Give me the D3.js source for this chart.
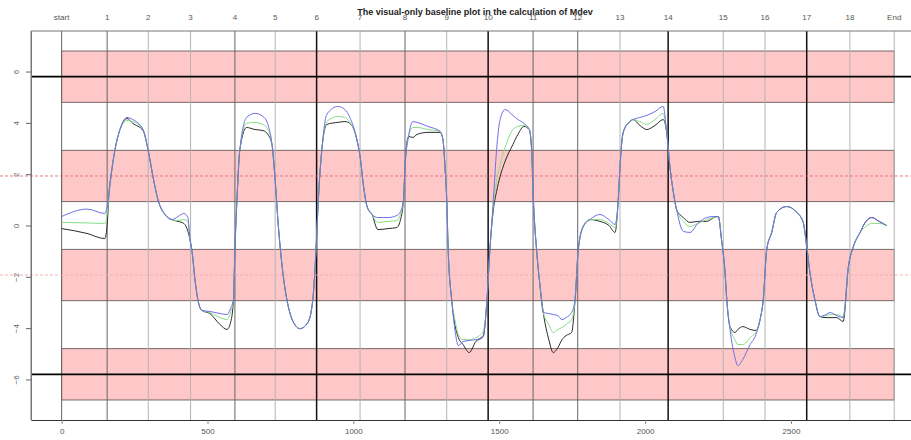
<!DOCTYPE html>
<html>
<head>
<meta charset="utf-8">
<script src="https://cdn.jsdelivr.net/npm/d3@7"></script>
<style>
  body { margin: 0; background: #fff; }
  text { font-family: "Liberation Sans", Arial, sans-serif; }
</style>
</head>
<body>
<script>
"use strict";
(function(){
    // boundaries along the top axis
    const boundaryLabels = ["start", "1", "2", "3", "4", "5", "6", "7", "8", "9", "10",
        "11", "12", "13", "14", "15", "16", "17", "18", "End"]
    const boundaryPos = [0, 156, 297, 442, 594, 732, 874, 1023, 1177, 1320, 1462,
        1616, 1769, 1914, 2079, 2268, 2411, 2554, 2702, 2854]
    const boundaryKind = ["dark", "dark", "light", "light", "dark", "light", "major", "light", "dark", "light", "major",
        "dark", "dark", "light", "major", "light", "light", "major", "light", "light"]

    const xTicks = [0, 500, 1000, 1500, 2000, 2500]
    const yTicks = [-6, -4, -2, 0, 2, 4, 6]

    // tolerance bands (centre +/- 1) and reference levels
    const bandCentres = [5.8, 1.93, -1.93, -5.8]
    const bandHalf = 1
    const solidLevels = [5.8, -5.8]
    const dashedLevels = [1.93, -1.93]

    // the three traces, sampled at shared positions
    const sampleX = [0, 87, 148, 157, 162, 169, 183, 200, 224, 244,
        279, 296, 313, 330, 354, 378, 399, 419, 433, 440,
        447, 457, 469, 481, 508, 543, 567, 580, 589, 594,
        601, 611, 634, 663, 690, 707, 721, 731, 743, 760,
        777, 795, 817, 844, 861, 872, 880, 892, 909, 947,
        971, 988, 1012, 1023, 1035, 1047, 1064, 1084, 1119, 1149,
        1160, 1172, 1177, 1189, 1204, 1218, 1256, 1297, 1307, 1314,
        1320, 1325, 1337, 1348, 1360, 1376, 1397, 1420, 1445, 1458,
        1468, 1480, 1491, 1503, 1520, 1547, 1564, 1585, 1603, 1611,
        1617, 1628, 1640, 1651, 1670, 1685, 1701, 1715, 1729, 1748,
        1760, 1771, 1788, 1811, 1845, 1876, 1897, 1908, 1914, 1925,
        1948, 1959, 1982, 2006, 2034, 2062, 2074, 2085, 2097, 2108,
        2131, 2154, 2181, 2211, 2236, 2251, 2262, 2274, 2280, 2291,
        2308, 2318, 2335, 2360, 2380, 2394, 2405, 2417, 2434, 2451,
        2485, 2520, 2542, 2554, 2565, 2582, 2599, 2620, 2634, 2657,
        2679, 2697, 2714, 2737, 2757, 2777, 2802, 2828]

    const blueTrace = [0.35, 0.64, 0.47, 0.82, 1.21, 1.91, 2.96, 3.74, 4.21, 4.13,
        3.74, 2.96, 1.91, 1.01, 0.43, 0.23, 0.35, 0.47, 0.31, -0.55,
        -1.01, -2.11, -3.00, -3.31, -3.35, -3.43, -3.47, -3.20, -2.89, -0.94,
        1.01, 2.96, 4.21, 4.37, 4.25, 3.94, 3.16, 1.91, -0.04, -1.99,
        -3.16, -3.78, -4.02, -3.78, -2.89, -0.94, 1.01, 2.96, 4.33, 4.64,
        4.52, 4.21, 3.35, 2.69, 1.52, 0.74, 0.43, 0.31, 0.31, 0.39,
        0.51, 1.01, 2.30, 3.47, 4.05, 4.02, 3.86, 3.67, 3.35, 2.30,
        1.01, -0.94, -2.89, -4.05, -4.68, -4.52, -4.48, -4.45, -4.29, -2.89,
        -0.94, 1.01, 2.96, 4.13, 4.52, 4.29, 4.13, 3.98, 3.74, 2.96,
        1.01, -0.94, -2.38, -3.39, -3.43, -3.47, -3.51, -3.67, -3.59, -3.39,
        -2.89, -0.94, -0.04, 0.23, 0.43, 0.23, 0.04, 1.01, 2.30, 3.63,
        4.05, 4.13, 4.21, 4.29, 4.44, 4.64, 3.63, 2.30, 1.29, 0.62,
        -0.23, -0.27, 0.08, 0.31, 0.35, 0.35, -0.55, -1.83, -2.89, -4.05,
        -5.15, -5.46, -5.22, -4.64, -4.25, -3.67, -2.89, -0.94, -0.27, 0.51,
        0.74, 0.51, 0.12, -0.82, -1.83, -2.89, -3.55, -3.47, -3.39, -3.51,
        -3.59, -1.60, -0.82, -0.27, 0.16, 0.31, 0.16, 0]

    const greenTrace = [0.12, 0.10, 0.08, 0.55, 1.21, 1.91, 2.96, 3.74, 4.09, 4.05,
        3.74, 2.96, 1.91, 1.01, 0.43, 0.23, 0.19, 0.23, 0.16, -0.55,
        -1.01, -2.11, -3.00, -3.31, -3.39, -3.59, -3.67, -3.35, -2.89, -0.94,
        1.01, 2.96, 3.98, 4.02, 3.94, 3.74, 3.16, 1.91, -0.04, -1.99,
        -3.16, -3.78, -4.02, -3.78, -2.89, -0.94, 1.01, 2.96, 4.05, 4.25,
        4.21, 4.02, 3.35, 2.69, 1.52, 0.74, 0.43, 0.12, 0.16, 0.19,
        0.39, 1.01, 2.30, 3.47, 3.82, 3.82, 3.74, 3.67, 3.35, 2.30,
        1.01, -0.94, -2.89, -3.67, -4.25, -4.45, -4.45, -4.37, -4.13, -2.89,
        -0.94, 0.82, 1.72, 2.38, 3.04, 3.74, 3.86, 3.90, 3.74, 2.96,
        1.01, -0.94, -2.38, -3.39, -3.86, -4.17, -4.05, -3.98, -3.86, -3.67,
        -2.89, -0.94, -0.04, 0.23, 0.23, 0.08, -0.08, 1.01, 2.30, 3.63,
        4.05, 4.13, 4.05, 3.94, 4.13, 4.37, 3.63, 2.30, 1.29, 0.62,
        0.16, -0.04, 0.08, 0.23, 0.31, 0.35, -0.55, -1.83, -2.89, -3.94,
        -4.45, -4.64, -4.64, -4.37, -4.13, -3.67, -2.89, -0.94, -0.27, 0.51,
        0.74, 0.51, 0.12, -0.82, -1.83, -2.89, -3.55, -3.51, -3.47, -3.47,
        -3.55, -1.60, -0.82, -0.27, -0.04, 0.08, 0.08, 0]

    const blackTrace = [-0.12, -0.31, -0.51, 0.16, 1.21, 1.91, 2.96, 3.74, 4.17, 3.98,
        3.70, 2.96, 1.91, 1.01, 0.43, 0.23, 0.16, 0.08, -0.23, -0.55,
        -1.01, -2.11, -3.00, -3.31, -3.43, -3.86, -4.05, -3.74, -2.89, -0.94,
        1.01, 2.96, 3.82, 3.74, 3.70, 3.55, 3.16, 1.91, -0.04, -1.99,
        -3.16, -3.78, -4.02, -3.78, -2.89, -0.94, 1.01, 2.96, 3.94, 4.02,
        4.05, 3.98, 3.35, 2.69, 1.52, 0.74, 0.43, -0.16, -0.12, -0.08,
        0.16, 1.01, 2.30, 3.47, 3.43, 3.55, 3.63, 3.63, 3.35, 2.30,
        1.01, -0.94, -2.89, -3.86, -4.37, -4.64, -4.95, -4.52, -4.33, -2.89,
        -0.94, 0.62, 1.33, 1.91, 2.50, 3.16, 3.55, 3.86, 3.74, 2.96,
        1.01, -0.94, -2.38, -3.39, -4.45, -4.95, -4.76, -4.45, -4.29, -4.17,
        -2.89, -0.94, -0.04, 0.23, 0.16, 0, -0.27, 1.01, 2.30, 3.63,
        4.05, 4.13, 3.90, 3.74, 3.90, 4.13, 3.63, 2.30, 1.29, 0.62,
        0.31, 0.12, 0.16, 0.16, 0.31, 0.35, -0.55, -1.83, -2.89, -3.94,
        -4.17, -4.05, -3.94, -4.05, -4.09, -3.67, -2.89, -0.94, -0.27, 0.51,
        0.74, 0.51, 0.12, -0.82, -1.83, -2.89, -3.55, -3.59, -3.59, -3.59,
        -3.74, -1.60, -0.82, -0.27, 0.16, 0.31, 0.16, 0]

    const traceNames = ["black", "green", "blue"]
    const traceValues = [blackTrace, greenTrace, blueTrace]

    const title = "The visual-only baseline plot in the calculation of Mdev"

    const measurements = { width: 911, height: 440, left: 31, top: 31, bottom: 420, right: 923.7 }

    let traceColor = d3.scaleOrdinal()
        .domain(traceNames)
        .range(["#2a2a2a", "#86de86", "#6f6fe8"])

    let kindStroke = d3.scaleOrdinal()
        .domain(["major", "dark", "light"])
        .range(["#111", "#666", "#b4b4b4"])
    let kindWidth = d3.scaleOrdinal()
        .domain(["major", "dark", "light"])
        .range([1.5, 1, 1])

    let svg = d3.select("body").append("svg")
        .attr("width", measurements.width)
        .attr("height", measurements.height)

    let scaleX = d3.scaleLinear()
        .domain([-105, 2955])
        .range([measurements.left, measurements.right])
    let scaleY = d3.scaleLinear()
        .domain([-7.58, 7.58])
        .range([measurements.bottom, measurements.top])

    let xEnd = boundaryPos[boundaryPos.length - 1]

    // pink bands
    svg.append("g").selectAll("rect")
        .data(bandCentres)
        .enter()
        .append("rect")
            .attr("x", scaleX(0))
            .attr("width", scaleX(xEnd) - scaleX(0))
            .attr("y", d => scaleY(d + bandHalf))
            .attr("height", d => scaleY(d - bandHalf) - scaleY(d + bandHalf))
            .attr("fill", "#ffc8c8")
            .attr("stroke", "#6a5a5a")
            .attr("stroke-width", 0.9)

    // boundary verticals
    svg.append("g").selectAll("line")
        .data(boundaryPos)
        .enter()
        .append("line")
            .attr("x1", d => scaleX(d))
            .attr("x2", d => scaleX(d))
            .attr("y1", measurements.top)
            .attr("y2", measurements.bottom)
            .attr("stroke", (d, i) => kindStroke(boundaryKind[i]))
            .attr("stroke-width", (d, i) => kindWidth(boundaryKind[i]))

    // thick reference lines
    svg.append("g").selectAll("line")
        .data(solidLevels)
        .enter()
        .append("line")
            .attr("x1", measurements.left)
            .attr("x2", measurements.width)
            .attr("y1", d => scaleY(d))
            .attr("y2", d => scaleY(d))
            .attr("stroke", "#000")
            .attr("stroke-width", 1.8)

    // dashed levels run across the whole picture
    svg.append("g").selectAll("line")
        .data(dashedLevels)
        .enter()
        .append("line")
            .attr("x1", 0)
            .attr("x2", measurements.width)
            .attr("y1", d => scaleY(d))
            .attr("y2", d => scaleY(d))
            .attr("stroke", (d, i) => i == 0 ? "#e07070" : "#f0aaaa")
            .attr("stroke-width", 0.9)
            .attr("stroke-dasharray", "3,2")

    // traces
    const line = d3.line()
        .x((d, i) => scaleX(sampleX[i]))
        .y(d => scaleY(d))
        .curve(d3.curveMonotoneX)

    svg.append("g").selectAll("path")
        .data(traceValues)
        .enter()
        .append("path")
            .attr("d", d => line(d))
            .attr("fill", "none")
            .attr("stroke", (d, i) => traceColor(traceNames[i]))
            .attr("stroke-width", 1)

    // plot frame
    svg.append("path")
        .attr("d", "M" + measurements.width + "," + measurements.top + "H" + measurements.left + "V" + measurements.bottom)
        .attr("fill", "none")
        .attr("stroke", "#777")
        .attr("stroke-width", 1)

    // bottom axis
    let xAxis = d3.axisBottom(scaleX)
        .tickValues(xTicks)
        .tickSize(4)
        .tickSizeOuter(0)
        .tickFormat(d3.format("d"))
    let gx = svg.append("g")
        .attr("transform", "translate(0," + measurements.bottom + ")")
        .call(xAxis)
    gx.select(".domain").attr("stroke", "#333")
    gx.selectAll(".tick line").attr("stroke", "#888")
    gx.selectAll("text")
        .attr("fill", "#555")
        .attr("font-size", 8)
        .attr("dy", "0.9em")
        .style("font-family", "\"Liberation Sans\", Arial, sans-serif")

    // left axis with rotated labels
    let yAxis = d3.axisLeft(scaleY)
        .tickValues(yTicks)
        .tickSize(5)
        .tickSizeOuter(0)
        .tickFormat(d3.format("d"))
    let gy = svg.append("g")
        .attr("transform", "translate(" + measurements.left + ",0)")
        .call(yAxis)
    gy.select(".domain").attr("stroke", "#777")
    gy.selectAll(".tick line").attr("stroke", "#666")
    gy.selectAll(".tick text")
        .attr("x", null)
        .attr("dy", null)
        .attr("transform", "translate(-15,0) rotate(-90)")
        .attr("text-anchor", "middle")
        .attr("dominant-baseline", "central")
        .attr("fill", "#666")
        .attr("font-size", 8)
        .style("font-family", "\"Liberation Sans\", Arial, sans-serif")

    // top boundary labels
    svg.append("g").selectAll("text")
        .data(boundaryLabels)
        .enter()
        .append("text")
            .attr("x", (d, i) => scaleX(boundaryPos[i]))
            .attr("y", 20)
            .attr("text-anchor", "middle")
            .attr("font-size", 8)
            .attr("fill", "#555")
            .text(d => d)

    // title
    svg.append("text")
        .attr("x", 475)
        .attr("y", 15)
        .attr("text-anchor", "middle")
        .attr("font-size", 9)
        .attr("font-weight", "bold")
        .attr("fill", "#222")
        .text(title)
})()
</script>
</body>
</html>
